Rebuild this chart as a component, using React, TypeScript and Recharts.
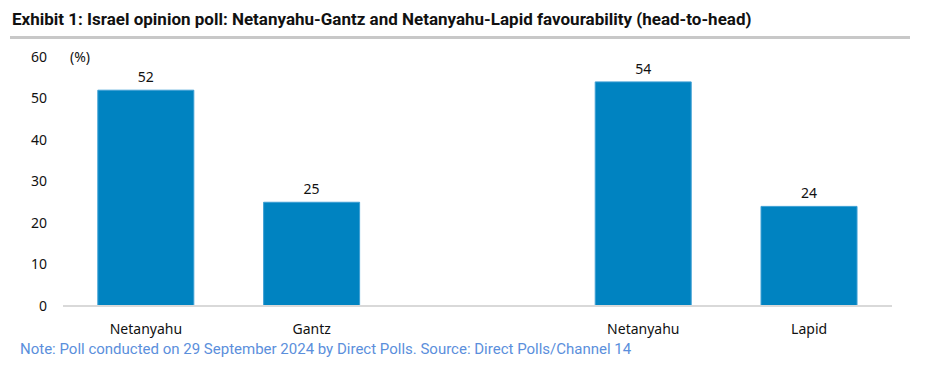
import React from 'react';
import { BarChart, Bar, XAxis, YAxis, LabelList } from 'recharts';

const categories = ['Netanyahu', 'Gantz', '', 'Netanyahu', 'Lapid'];
const values: (number | null)[] = [52, 25, null, 54, 24];
const yTicks = [0, 10, 20, 30, 40, 50, 60];

const title = 'Exhibit 1: Israel opinion poll: Netanyahu-Gantz and Netanyahu-Lapid favourability (head-to-head)';
const note = 'Note: Poll conducted on 29 September 2024 by Direct Polls. Source: Direct Polls/Channel 14';

const data = categories.map((c, i) => ({ key: i, label: c, value: values[i] }));

const tickFont = { fontFamily: '"Noto Sans", "Open Sans", sans-serif', fontSize: 14, fill: '#111' };

export default function App() {
  return (
    <div style={{ position: 'absolute', left: 0, top: 0, width: 930, height: 381, background: '#fff', overflow: 'hidden' }}>
      <div style={{ position: 'absolute', left: 12, top: 9, fontFamily: 'Roboto, sans-serif', fontWeight: 'bold', fontSize: 17, color: '#111', whiteSpace: 'nowrap' }}>
        {title}
      </div>
      <div style={{ position: 'absolute', left: 10, top: 36, width: 900, height: 3, background: '#c8c8c8' }} />
      <div style={{ position: 'absolute', left: 70, top: 47, fontFamily: '"Noto Sans", "Open Sans", sans-serif', fontSize: 14, color: '#111' }}>(%)</div>
      <BarChart
        width={930}
        height={381}
        data={data}
        margin={{ top: 57, right: 38, bottom: 45, left: 0 }}
        barCategoryGap="21%"
        style={{ position: 'absolute', left: 0, top: 0 }}
      >
        <XAxis
          dataKey="key"
          type="category"
          tickFormatter={(v: number) => categories[v]}
          axisLine={{ stroke: '#d9d9d9', strokeWidth: 2 }}
          tickLine={false}
          tickSize={0}
          tickMargin={18}
          tick={tickFont}
          interval={0}
          height={30}
        />
        <YAxis
          domain={[0, 60]}
          ticks={yTicks}
          axisLine={false}
          tickLine={false}
          tickSize={0}
          tickMargin={16}
          width={63}
          tick={tickFont}
          interval={0}
        />
        <Bar dataKey="value" fill="#0083C1" stroke="#3d9fd4" strokeWidth={1} isAnimationActive={false}>
          <LabelList dataKey="value" position="top" offset={8} style={{ fontFamily: '"Noto Sans", "Open Sans", sans-serif', fontSize: 14, fill: '#111' }} />
        </Bar>
      </BarChart>
      <div style={{ position: 'absolute', left: 20, top: 340, fontFamily: 'Roboto, sans-serif', fontSize: 15, color: '#5b8fdc', whiteSpace: 'nowrap' }}>
        {note}
      </div>
    </div>
  );
}
